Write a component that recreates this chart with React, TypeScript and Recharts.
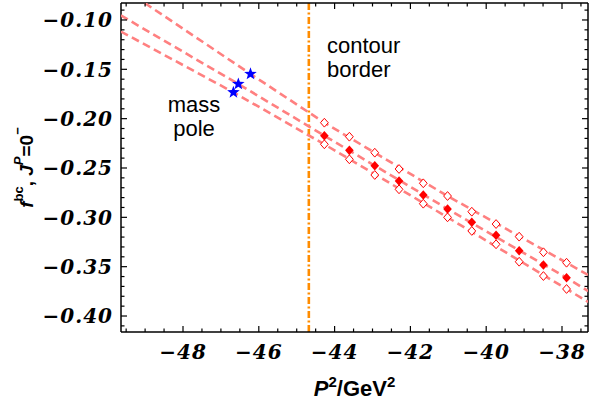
import React from 'react';
import { ScatterChart, Scatter, XAxis, YAxis, ReferenceLine, ReferenceDot } from 'recharts';

// lattice points (P^2 in GeV^2) and the three f^bc bands
const P2 = [-44.27, -43.61, -42.94, -42.30, -41.66, -41.02, -40.38, -39.74, -39.13, -38.49, -37.88];
const F_UPPER = [-0.2041, -0.2183, -0.2345, -0.2510, -0.2655, -0.2784, -0.2943, -0.3068, -0.3196, -0.3354, -0.3460];
const F_CENTRAL = [-0.2173, -0.2321, -0.2477, -0.2632, -0.2774, -0.2915, -0.3050, -0.3182, -0.3338, -0.3483, -0.3612];
const F_LOWER = [-0.2260, -0.2412, -0.2571, -0.2716, -0.2862, -0.3000, -0.3138, -0.3273, -0.3450, -0.3595, -0.3726];

// mass pole values (stars)
const POLE_P2 = [-46.22, -46.54, -46.67];
const POLE_F = [-0.1547, -0.1649, -0.1733];

const CURVE_UPPER_X = [-49.01, -46.22, -44.27, -41.02, -37.88, -37.31];
const CURVE_UPPER_Y = [-0.0828, -0.1547, -0.2041, -0.2784, -0.3460, -0.3584];
const CURVE_CENTRAL_X = [-49.64, -46.54, -44.27, -41.02, -37.88, -37.31];
const CURVE_CENTRAL_Y = [-0.0954, -0.1649, -0.2173, -0.2915, -0.3612, -0.3747];
const CURVE_LOWER_X = [-49.64, -46.67, -44.27, -41.02, -37.88, -37.31];
const CURVE_LOWER_Y = [-0.1117, -0.1733, -0.2260, -0.3000, -0.3726, -0.3858];

const CONTOUR_BORDER = -44.68;

const X_DOMAIN = [-49.636, -37.314];
const Y_DOMAIN = [-0.4162, -0.0828];
const X_MAJOR = [-48, -46, -44, -42, -40, -38];
const X_MINOR = [-49.5, -49, -48.5, -47.5, -47, -46.5, -45.5, -45, -44.5, -43.5, -43, -42.5, -41.5, -41, -40.5, -39.5, -39, -38.5, -37.5];
const Y_MAJOR = [-0.4, -0.35, -0.3, -0.25, -0.2, -0.15, -0.1];
const Y_MINOR = [-0.41, -0.39, -0.38, -0.37, -0.36, -0.34, -0.33, -0.32, -0.31, -0.29, -0.28, -0.27, -0.26, -0.24, -0.23, -0.22, -0.21, -0.19, -0.18, -0.17, -0.16, -0.14, -0.13, -0.12, -0.11, -0.09];

const X_TICKS = [...X_MAJOR, ...X_MINOR].sort((a, b) => a - b);
const Y_TICKS = [...Y_MAJOR, ...Y_MINOR].sort((a, b) => a - b);

const LINE_COLOR = '#ff8080';
const POINT_COLOR = '#ff0000';
const STAR_COLOR = '#0000ff';
const BORDER_COLOR = '#ff8c00';
const SANS = '"Liberation Sans", Arial, sans-serif';
const TICK_FONT = '"DejaVu Serif", serif';

const toPoints = (xs: number[], ys: number[]) => xs.map((x, i) => ({ x, y: ys[i] }));

const upperPts = toPoints(P2, F_UPPER);
const centralPts = toPoints(P2, F_CENTRAL);
const lowerPts = toPoints(P2, F_LOWER);
const polePts = toPoints(POLE_P2, POLE_F);
const curves = [
  toPoints(CURVE_UPPER_X, CURVE_UPPER_Y),
  toPoints(CURVE_CENTRAL_X, CURVE_CENTRAL_Y),
  toPoints(CURVE_LOWER_X, CURVE_LOWER_Y),
];

const minus = (s: string) => s.replace('-', '\u2212');
const fmtX = (v: number) => minus(String(v));
const fmtY = (v: number) => minus(v.toFixed(2));

type Side = 'bottom' | 'top' | 'left' | 'right';

const tickTextStyle: React.CSSProperties = {
  fontFamily: TICK_FONT,
  fontWeight: 700,
  fontStyle: 'italic',
  fontSize: 20,
  letterSpacing: 1,
  fill: '#000',
};

// Mathematica style frame ticks: pointing inward, labels only on bottom/left
const makeTick = (side: Side, majors: number[], fmt?: (v: number) => string) => (props: any) => {
  const { x, y, payload } = props;
  const v = payload.value;
  const major = majors.some((m) => Math.abs(m - v) < 1e-9);
  const len = major ? 6 : 3.5;
  let line;
  if (side === 'bottom') line = <line x1={x} x2={x} y1={y} y2={y - len} />;
  else if (side === 'top') line = <line x1={x} x2={x} y1={y} y2={y + len} />;
  else if (side === 'left') line = <line x1={x} x2={x + len} y1={y} y2={y} />;
  else line = <line x1={x} x2={x - len} y1={y} y2={y} />;
  let label = null;
  if (major && fmt) {
    label =
      side === 'bottom' ? (
        <text x={x} y={y + 27} textAnchor="middle" style={tickTextStyle}>{fmt(v)}</text>
      ) : (
        <text x={x - 8} y={y} dy="0.36em" textAnchor="end" style={tickTextStyle}>{fmt(v)}</text>
      );
  }
  return (
    <g>
      <g stroke="#000" strokeWidth={1.2}>{line}</g>
      {label}
    </g>
  );
};

const FilledDiamond = (props: any) => {
  const { cx, cy } = props;
  return <path d={`M${cx},${cy - 4.8}L${cx + 4.3},${cy}L${cx},${cy + 4.8}L${cx - 4.3},${cy}Z`} fill={POINT_COLOR} />;
};

const OpenDiamond = (props: any) => {
  const { cx, cy } = props;
  return (
    <path
      d={`M${cx},${cy - 4.4}L${cx + 3.9},${cy}L${cx},${cy + 4.4}L${cx - 3.9},${cy}Z`}
      fill="#fff"
      stroke={POINT_COLOR}
      strokeWidth={1}
    />
  );
};

const Star = (props: any) => {
  const { cx, cy } = props;
  const R = 6.6;
  const r = 2.7;
  let d = '';
  for (let i = 0; i < 10; i++) {
    const rad = i % 2 === 0 ? R : r;
    const a = -Math.PI / 2 + (i * Math.PI) / 5;
    d += (i === 0 ? 'M' : 'L') + (cx + rad * Math.cos(a)).toFixed(2) + ',' + (cy + rad * Math.sin(a)).toFixed(2);
  }
  return <path d={d + 'Z'} fill={STAR_COLOR} />;
};

const NoShape = () => <g />;

const YTitle = (props: any) => {
  const vb = props.viewBox;
  const cx = vb.x + 18;
  const cy = vb.y + vb.height / 2;
  return (
    <text
      x={cx}
      y={cy}
      transform={`rotate(-90, ${cx}, ${cy})`}
      textAnchor="middle"
      dominantBaseline="central"
      fontFamily={SANS}
      fontWeight="bold"
      fontSize={19}
      fill="#000"
    >
      <tspan fontStyle="italic">f</tspan>
      <tspan fontSize={13} dy={-8}>bc</tspan>
      <tspan dy={8}>, </tspan>
      <tspan fontStyle="italic">J</tspan>
      <tspan fontStyle="italic" fontSize={13} dy={-8}>P</tspan>
      <tspan dy={8}>=0</tspan>
      <tspan fontSize={13} dy={-9}>{'\u2212'}</tspan>
    </text>
  );
};

const XTitle = (props: any) => {
  const vb = props.viewBox;
  const cx = vb.x + vb.width / 2;
  return (
    <text x={cx} y={vb.y + 64} textAnchor="middle" fontFamily={SANS} fontWeight="bold" fontSize={22} fill="#000">
      <tspan fontStyle="italic">P</tspan>
      <tspan fontSize={15} dy={-9}>2</tspan>
      <tspan dy={9}>/GeV</tspan>
      <tspan fontSize={15} dy={-9}>2</tspan>
    </text>
  );
};

const makeNote = (lines: string[], anchor: 'start' | 'middle', gap: number) => (props: any) => {
  const vb = props.viewBox;
  const x = vb.x + (vb.width || 0) / 2;
  const y = vb.y + (vb.height || 0) / 2;
  return (
    <text x={x} y={y} textAnchor={anchor} fontFamily={SANS} fontSize={22} fill="#000">
      {lines.map((l, i) => (
        <tspan key={l} x={x} dy={i === 0 ? 0 : gap}>
          {l}
        </tspan>
      ))}
    </text>
  );
};

const axisLine = { stroke: '#000', strokeWidth: 1.5 };

export default function App() {
  return (
    <div style={{ position: 'absolute', left: 0, top: 0, width: 589, height: 402, background: '#fff' }}>
      <ScatterChart width={589} height={402} margin={{ top: 2, right: 0, bottom: 8, left: 8 }}>
        <XAxis
          xAxisId={0}
          dataKey="x"
          type="number"
          domain={X_DOMAIN}
          allowDataOverflow
          ticks={X_TICKS}
          interval={0}
          height={62}
          tickSize={0}
          tickMargin={0}
          tickLine={false}
          axisLine={axisLine}
          tick={makeTick('bottom', X_MAJOR, fmtX)}
          label={{ content: XTitle }}
        />
        <XAxis
          xAxisId="top"
          orientation="top"
          dataKey="x"
          type="number"
          domain={X_DOMAIN}
          allowDataOverflow
          ticks={X_TICKS}
          interval={0}
          height={1}
          tickSize={0}
          tickMargin={0}
          tickLine={false}
          axisLine={axisLine}
          tick={makeTick('top', X_MAJOR)}
        />
        <YAxis
          yAxisId={0}
          dataKey="y"
          type="number"
          domain={Y_DOMAIN}
          allowDataOverflow
          ticks={Y_TICKS}
          interval={0}
          width={113}
          tickSize={0}
          tickMargin={0}
          tickLine={false}
          axisLine={axisLine}
          tick={makeTick('left', Y_MAJOR, fmtY)}
          label={{ content: YTitle }}
        />
        <YAxis
          yAxisId="right"
          orientation="right"
          dataKey="y"
          type="number"
          domain={Y_DOMAIN}
          allowDataOverflow
          ticks={Y_TICKS}
          interval={0}
          width={1}
          tickSize={0}
          tickMargin={0}
          tickLine={false}
          axisLine={axisLine}
          tick={makeTick('right', Y_MAJOR)}
        />

        {curves.map((pts, i) => (
          <Scatter
            key={`curve-${i}`}
            data={pts}
            fill="none"
            shape={NoShape}
            line={{ stroke: LINE_COLOR, strokeWidth: 2.6, strokeDasharray: '8 4.5' }}
            lineType="joint"
            isAnimationActive={false}
          />
        ))}

        <ReferenceLine
          x={CONTOUR_BORDER}
          stroke={BORDER_COLOR}
          strokeWidth={2.6}
          strokeDasharray="7 2.5 2 2.5"
        />

        <Scatter data={upperPts} shape={OpenDiamond} isAnimationActive={false} />
        <Scatter data={lowerPts} shape={OpenDiamond} isAnimationActive={false} />
        <Scatter data={centralPts} shape={FilledDiamond} isAnimationActive={false} />
        <Scatter data={polePts} shape={Star} isAnimationActive={false} />

        <ReferenceDot
          x={-44.2}
          y={-0.1335}
          r={0}
          fill="none"
          stroke="none"
          label={{ content: makeNote(['contour', 'border'], 'start', 24) }}
        />
        <ReferenceDot
          x={-47.71}
          y={-0.1936}
          r={0}
          fill="none"
          stroke="none"
          label={{ content: makeNote(['mass', 'pole'], 'middle', 24) }}
        />
      </ScatterChart>
    </div>
  );
}
